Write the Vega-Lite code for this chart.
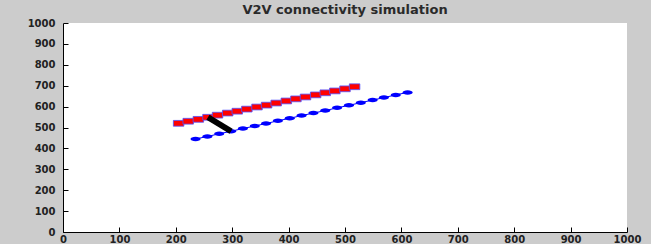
{
  "$schema": "https://vega.github.io/schema/vega-lite/v6.json",
  "width": 564,
  "height": 209,
  "autosize": {"type": "none"},
  "padding": {"left": 63, "top": 23, "right": 24, "bottom": 12},
  "background": "#cccccc",
  "title": {"text": "V2V connectivity simulation", "fontSize": 13, "font": "DejaVu Sans", "fontWeight": "bold", "color": "#2a2a2a", "offset": 1, "anchor": "middle"},
  "config": {
    "view": {"fill": "white", "stroke": null},
    "axis": {"grid": false, "domainColor": "#000000", "tickColor": "#000000", "labelColor": "#222222", "labelFont": "DejaVu Sans", "labelFontWeight": "bold", "labelFontSize": 10, "tickSize": -5, "title": null, "labelFlush": false, "format": "d"},
    "axisX": {"labelPadding": 7},
    "axisY": {"labelPadding": 13}
  },
  "datasets": {
    "pts": [
      {"s": "a", "i": 0, "x": 205, "y": 520}, {"s": "a", "i": 1, "x": 222, "y": 530}, {"s": "a", "i": 2, "x": 240, "y": 539},
      {"s": "a", "i": 3, "x": 257, "y": 549}, {"s": "a", "i": 4, "x": 274, "y": 559}, {"s": "a", "i": 5, "x": 292, "y": 569},
      {"s": "a", "i": 6, "x": 309, "y": 578}, {"s": "a", "i": 7, "x": 326, "y": 588}, {"s": "a", "i": 8, "x": 344, "y": 598},
      {"s": "a", "i": 9, "x": 361, "y": 607}, {"s": "a", "i": 10, "x": 378, "y": 617}, {"s": "a", "i": 11, "x": 396, "y": 627},
      {"s": "a", "i": 12, "x": 413, "y": 637}, {"s": "a", "i": 13, "x": 430, "y": 646}, {"s": "a", "i": 14, "x": 448, "y": 656},
      {"s": "a", "i": 15, "x": 465, "y": 666}, {"s": "a", "i": 16, "x": 482, "y": 675}, {"s": "a", "i": 17, "x": 500, "y": 685},
      {"s": "a", "i": 18, "x": 517, "y": 695},
      {"s": "b", "i": 0, "x": 235, "y": 445}, {"s": "b", "i": 1, "x": 256, "y": 457}, {"s": "b", "i": 2, "x": 277, "y": 470},
      {"s": "b", "i": 3, "x": 298, "y": 482}, {"s": "b", "i": 4, "x": 319, "y": 495}, {"s": "b", "i": 5, "x": 340, "y": 507},
      {"s": "b", "i": 6, "x": 360, "y": 519}, {"s": "b", "i": 7, "x": 381, "y": 532}, {"s": "b", "i": 8, "x": 402, "y": 544},
      {"s": "b", "i": 9, "x": 423, "y": 557}, {"s": "b", "i": 10, "x": 444, "y": 569}, {"s": "b", "i": 11, "x": 465, "y": 581},
      {"s": "b", "i": 12, "x": 486, "y": 594}, {"s": "b", "i": 13, "x": 507, "y": 606}, {"s": "b", "i": 14, "x": 528, "y": 619},
      {"s": "b", "i": 15, "x": 549, "y": 631}, {"s": "b", "i": 16, "x": 569, "y": 643}, {"s": "b", "i": 17, "x": 590, "y": 656},
      {"s": "b", "i": 18, "x": 611, "y": 668}
    ],
    "link": [
      {"k": 0, "x": 257, "y": 549}, {"k": 1, "x": 298, "y": 482}
    ]
  },
  "encoding": {
    "x": {"field": "x", "type": "quantitative", "scale": {"domain": [0, 1000], "nice": false}, "axis": {"values": [0,100,200,300,400,500,600,700,800,900,1000]}},
    "y": {"field": "y", "type": "quantitative", "scale": {"domain": [0, 1000], "nice": false}, "axis": {"values": [0,100,200,300,400,500,600,700,800,900,1000]}}
  },
  "layer": [
    {
      "data": {"name": "pts"},
      "transform": [{"filter": "datum.s === 'b'"}],
      "mark": {"type": "line", "color": "#0000ff", "strokeWidth": 1},
      "encoding": {"order": {"field": "i", "type": "quantitative"}}
    },
    {
      "data": {"name": "pts"},
      "transform": [{"filter": "datum.s === 'b'"}],
      "mark": {"type": "point", "shape": "M-1,0A1,0.45,0,1,1,1,0A1,0.45,0,1,1,-1,0Z", "filled": true, "color": "#0000ff", "size": 100, "opacity": 1}
    },
    {
      "data": {"name": "pts"},
      "transform": [{"filter": "datum.s === 'a'"}],
      "mark": {"type": "line", "color": "#0000ff", "strokeWidth": 1},
      "encoding": {"order": {"field": "i", "type": "quantitative"}}
    },
    {
      "data": {"name": "pts"},
      "transform": [{"filter": "datum.s === 'a'"}],
      "mark": {"type": "point", "shape": "M-1,-0.55H1V0.55H-1Z", "filled": true, "fill": "#ff0000", "stroke": "#5050ff", "strokeWidth": 0.8, "size": 110, "opacity": 1}
    },
    {
      "data": {"name": "link"},
      "mark": {"type": "line", "color": "#000000", "strokeWidth": 6, "strokeCap": "butt"},
      "encoding": {"order": {"field": "k", "type": "quantitative"}}
    }
  ]
}
